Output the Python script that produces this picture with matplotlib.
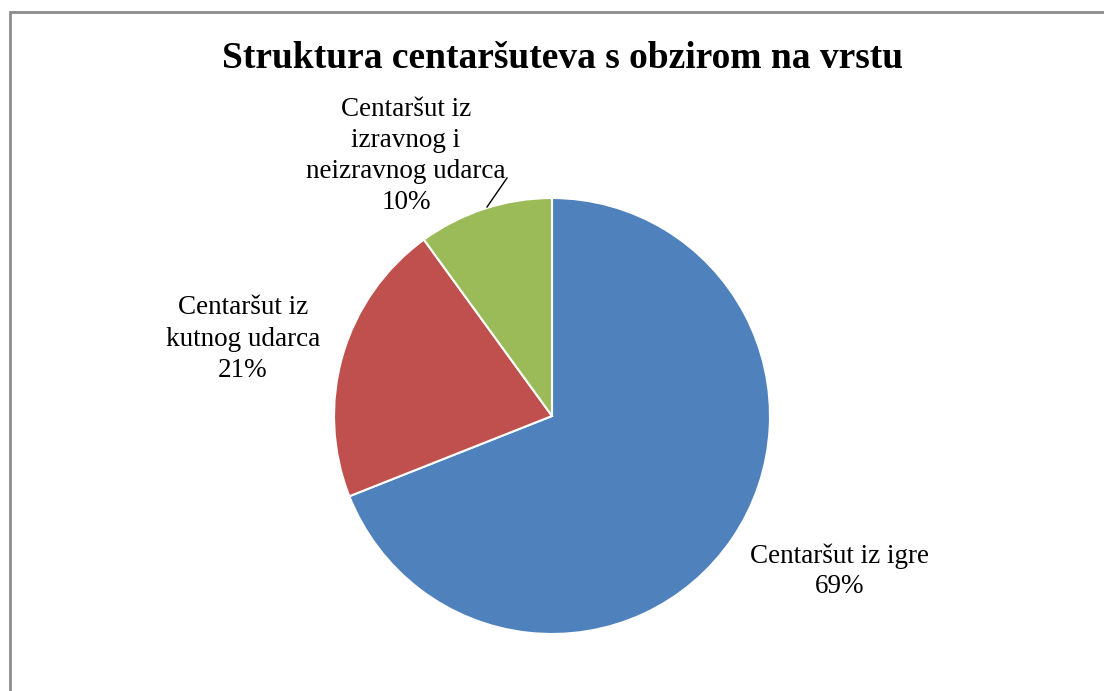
import matplotlib.pyplot as plt
from matplotlib.patches import Rectangle

labels = ['Centaršut iz igre', 'Centaršut iz\nkutnog udarca', 'Centaršut iz\nizravnog i\nneizravnog udarca']
shares = [69, 21, 10]
colors = ['#4F81BD', '#C0504D', '#9BBB59']

plt.rcParams['font.family'] = ['Liberation Serif', 'DejaVu Serif']

W, H = 1104, 691
fig = plt.figure(figsize=(W / 100, H / 100), dpi=100)
ax = fig.add_axes([0, 0, 1, 1])

# chart border (only top and left visible, rest cropped)
ax.add_patch(Rectangle((9.5, -20), W + 20, H - 11.5 + 20, fill=False,
                       edgecolor='#8c8c8c', linewidth=2))

cx, cy, r = 552, H - 416, 218
ax.pie(shares, colors=colors, startangle=90, counterclock=False,
       center=(cx, cy), radius=r, frame=True,
       wedgeprops=dict(edgecolor='white', linewidth=1.5))
ax.set_xlim(0, W)
ax.set_ylim(0, H)
ax.set_aspect('equal')
ax.axis('off')

ax.text(563, H - 58, 'Struktura centaršuteva s obzirom na vrstu', ha='center', va='center',
        fontsize=27, fontweight='bold')

fs = 19.5
ax.text(840, H - 571, f'{labels[0]}\n{shares[0]}%', ha='center', va='center',
        fontsize=fs, linespacing=1.25)
ax.text(243, H - 339, f'{labels[1]}\n{shares[1]}%', ha='center', va='center',
        fontsize=fs, linespacing=1.33)
ax.text(406, H - 156, f'{labels[2]}\n{shares[2]}%', ha='center', va='center',
        fontsize=fs, linespacing=1.33)

# leader line for the small slice
ax.plot([487, 507], [H - 207, H - 178], color='black', linewidth=1)

fig.savefig('out.png', dpi=100)
